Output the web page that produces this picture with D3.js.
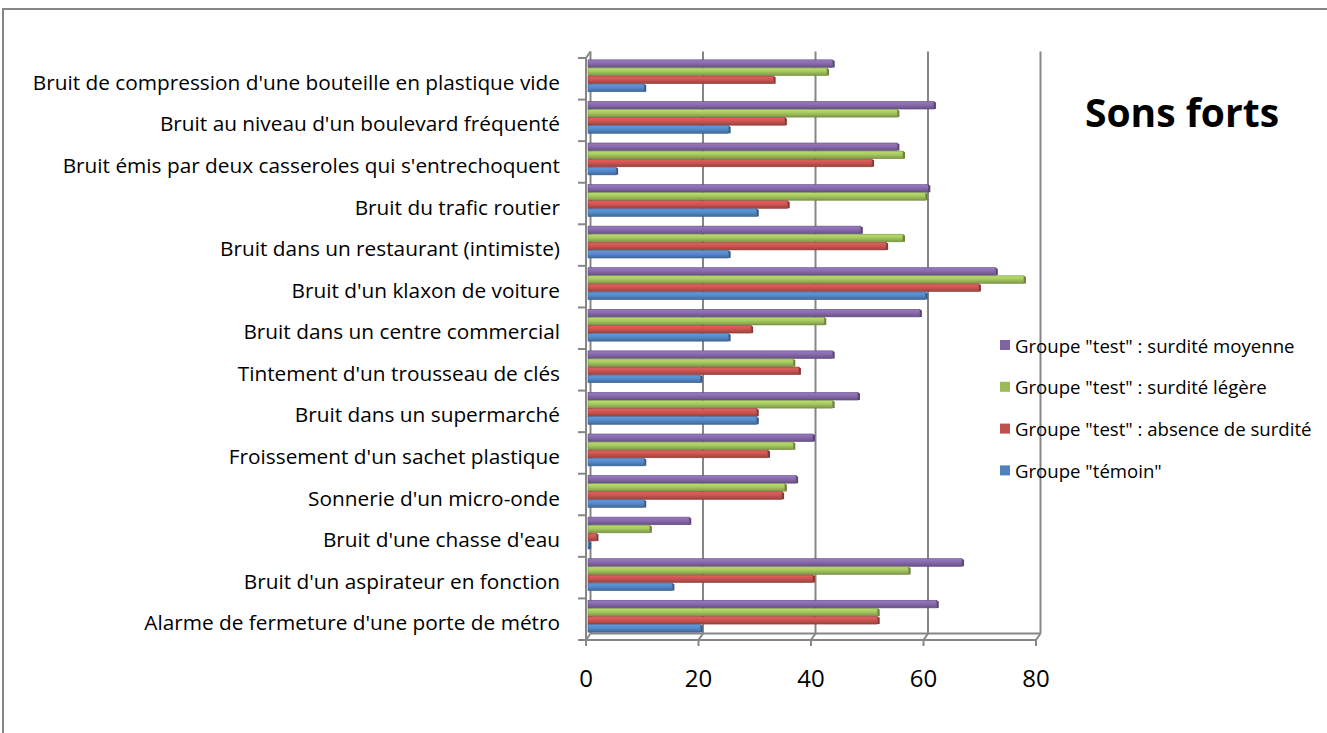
<!DOCTYPE html>
<meta charset="utf-8">
<style>
body { margin: 0; background: #fff; }
svg { display: block; font-family: "Open Sans", sans-serif; }
.grid line, .frame path { fill: none; stroke: #868686; stroke-width: 2; }
.cat text { font-size: 20.8px; fill: #000; }
.tick-label { font-size: 24px; fill: #000; }
.legend text { font-size: 18.6px; fill: #000; }
</style>
<svg width="1327" height="733"></svg>
<script src="https://d3js.org/d3.v7.min.js"></script>
<script>

// categories top to bottom as shown
var categories = [
  "Bruit de compression d'une bouteille en plastique vide",
  "Bruit au niveau d'un boulevard fréquenté",
  "Bruit émis par deux casseroles qui s'entrechoquent",
  "Bruit du trafic routier",
  "Bruit dans un restaurant (intimiste)",
  "Bruit d'un klaxon de voiture",
  "Bruit dans un centre commercial",
  "Tintement d'un trousseau de clés",
  "Bruit dans un supermarché",
  "Froissement d'un sachet plastique",
  "Sonnerie d'un micro-onde",
  "Bruit d'une chasse d'eau",
  "Bruit d'un aspirateur en fonction",
  "Alarme de fermeture d'une porte de métro"
];

var seriesNames = [
  'Groupe "test" : surdité moyenne',
  'Groupe "test" : surdité légère',
  'Groupe "test" : absence de surdité',
  'Groupe "témoin"'
];
var seriesColors = ["#8064A2", "#9BBB59", "#C0504D", "#4F81BD"];

var moyenne  = [43.5, 61.5, 55, 60.5, 48.5, 72.5, 59, 43.5, 48, 40, 37, 18, 66.5, 62];
var legere   = [42.5, 55, 56, 60, 56, 77.5, 42, 36.5, 43.5, 36.5, 35, 11, 57, 51.5];
var absence  = [33, 35, 50.5, 35.5, 53, 69.5, 29, 37.5, 30, 32, 34.5, 1.5, 40, 51.5];
var temoin   = [10, 25, 5, 30, 25, 60, 25, 20, 30, 10, 10, 0.2, 15, 20];

var xTicks = [0, 20, 40, 60, 80];

var values = [moyenne, legere, absence, temoin];

var svg = d3.select("svg");

// outer frame of the chart area
svg.append("path")
    .attr("d", "M3,740V9H1340")
    .attr("fill", "none")
    .attr("stroke", "#868686")
    .attr("stroke-width", 2);

// front plane and depth offset (pseudo 3D)
var dx = 4.5, dy = -6.5;
var x = d3.scaleLinear().domain([0, 80]).range([586, 1036]);
var y = d3.scaleBand().domain(categories).range([58, 640]);

var defs = svg.append("defs");
seriesColors.forEach(function(c, i) {
  var g = defs.append("linearGradient")
      .attr("id", "grad" + i)
      .attr("x1", 0).attr("y1", 0).attr("x2", 0).attr("y2", 1);
  var col = d3.color(c);
  g.append("stop").attr("offset", "0%").attr("stop-color", col.brighter(0.5));
  g.append("stop").attr("offset", "45%").attr("stop-color", col.brighter(0.2));
  g.append("stop").attr("offset", "100%").attr("stop-color", col.darker(0.6));
});

// back wall gridlines
var grid = svg.append("g").attr("class", "grid");
grid.selectAll("line.v").data(xTicks).enter().append("line")
    .attr("x1", function(d) { return x(d) + dx; })
    .attr("x2", function(d) { return x(d) + dx; })
    .attr("y1", 58 + dy)
    .attr("y2", 640 + dy);
// floor diagonals
grid.selectAll("line.d").data(xTicks).enter().append("line")
    .attr("x1", function(d) { return x(d) + dx; })
    .attr("x2", function(d) { return x(d); })
    .attr("y1", 640 + dy)
    .attr("y2", 640);

var frame = svg.append("g").attr("class", "frame");
frame.append("path")
    .attr("d", "M" + (x(0) + dx) + "," + (640 + dy) + "H" + (x(80) + dx));
// left axis (front) with top diagonal
frame.append("path")
    .attr("d", "M" + (x(0) + dx) + "," + (58 + dy) + "L" + x(0) + ",58V640H" + x(80));
// category ticks
var catTicks = categories.map(function(c) { return y(c); }).concat([640]);
frame.selectAll("path.ct").data(catTicks).enter().append("path")
    .attr("d", function(d) { return "M" + (x(0) - 8) + "," + d + "H" + x(0); });
frame.selectAll("path.xt").data(xTicks).enter().append("path")
    .attr("d", function(d) { return "M" + x(d) + ",640V646"; });

// bars
var inner = d3.scaleBand().domain(d3.range(4)).range([0, y.bandwidth()]).paddingInner(0.06).paddingOuter(0.6);
var bh = inner.bandwidth();
var barX = d3.scaleLinear().domain([0, 80]).range([x(0) + 2, x(80) + 2]);

var groups = svg.append("g").selectAll("g").data(categories).enter().append("g")
    .attr("transform", function(d) { return "translate(0," + (y(d) - 3) + ")"; });

groups.each(function(c, ci) {
  var g = d3.select(this);
  values.forEach(function(arr, si) {
    var v = arr[ci];
    var x0 = barX(0), x1 = barX(v);
    var top = inner(si);
    var col = d3.color(seriesColors[si]);
    g.append("rect")
        .attr("x", x0).attr("y", top)
        .attr("width", Math.max(0.5, x1 - x0)).attr("height", bh)
        .attr("fill", "url(#grad" + si + ")")
        .attr("stroke", col.darker(0.8))
        .attr("stroke-width", 0.6);
    // end cap
    g.append("path")
        .attr("d", "M" + x1 + "," + top + "l2,1.2v" + (bh - 1.2) + "l-2," + 0 + "z")
        .attr("fill", col.darker(1));
  });
});

// category labels
svg.append("g").attr("class", "cat").selectAll("text").data(categories).enter().append("text")
    .attr("x", 560)
    .attr("y", function(d) { return y(d) + y.bandwidth() / 2 + 3; })
    .attr("text-anchor", "end")
    .attr("dominant-baseline", "central")
    .text(function(d) { return d; });

// x tick labels
svg.selectAll("text.tick-label").data(xTicks).enter().append("text")
    .attr("class", "tick-label")
    .attr("x", function(d) { return x(d); })
    .attr("y", 687)
    .attr("text-anchor", "middle")
    .text(function(d) { return d; });

// title
svg.append("text")
    .attr("x", 1182)
    .attr("y", 127)
    .attr("text-anchor", "middle")
    .style("font-size", "39px")
    .style("font-weight", "bold")
    .text("Sons forts");

// legend
var legend = svg.append("g").attr("class", "legend").selectAll("g").data(seriesNames).enter().append("g")
    .attr("transform", function(d, i) { return "translate(1000," + (345 + i * 41.8) + ")"; });
legend.append("rect")
    .attr("x", 0).attr("y", -5).attr("width", 10).attr("height", 10)
    .attr("fill", function(d, i) { return seriesColors[i]; });
legend.append("text")
    .attr("x", 15)
    .attr("y", 0)
    .attr("dominant-baseline", "central")
    .text(function(d) { return d; });

</script>
